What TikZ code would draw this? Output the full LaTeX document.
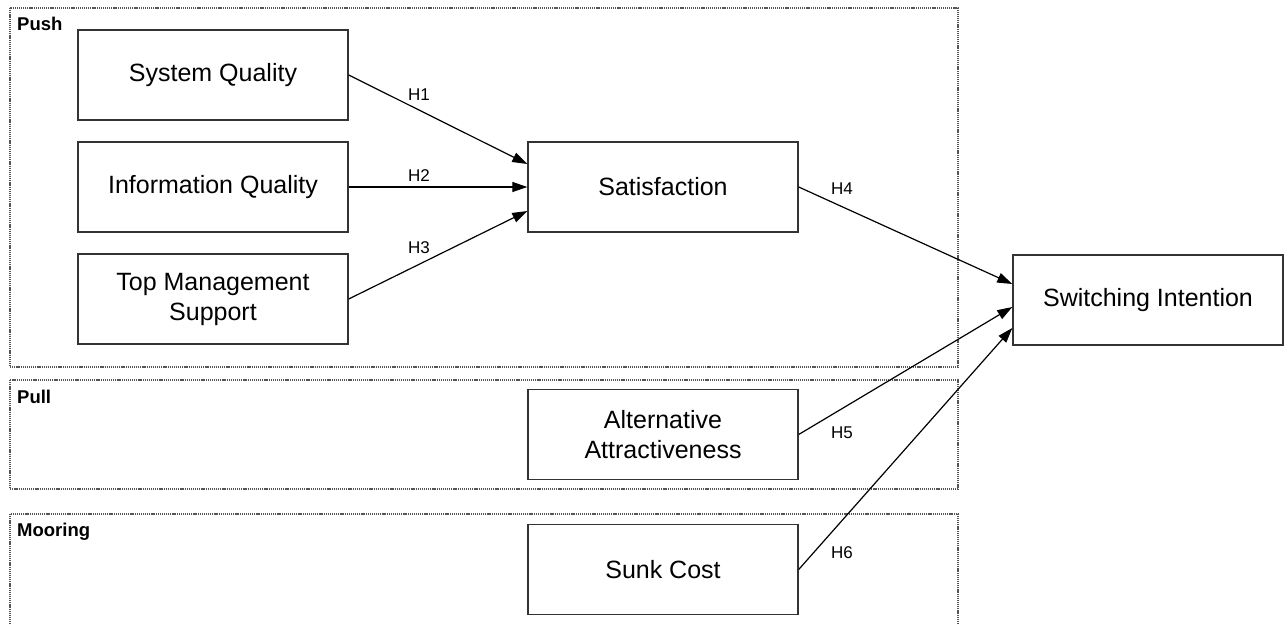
\documentclass[tikz,border=0pt]{standalone}
\usepackage{fontspec}
\setmainfont{Liberation Sans}
\usetikzlibrary{arrows.meta}
\definecolor{boxline}{HTML}{333333}
\definecolor{grpline}{HTML}{555555}
\tikzset{
  construct/.style={draw=boxline, line width=1.4pt, rectangle, minimum width=270pt, minimum height=90pt, align=center, inner sep=0pt, font=\fontsize{25}{30}\selectfont},
  grp/.style={draw=grpline, line width=1.1pt, dash pattern=on 1.2pt off 0.9pt},
  grplabel/.style={anchor=west, inner sep=0pt, font=\fontsize{18.5}{20}\selectfont\bfseries},
  hyp/.style={inner sep=0pt, font=\fontsize{17}{20}\selectfont},
  link/.style={draw=black, line width=1.2pt, -{Triangle[length=15pt,width=10pt]}}
}
\begin{document}
\begin{tikzpicture}[x=1pt,y=-1pt]
\useasboundingbox (0,0) rectangle (1288,624);
\clip (0,0) rectangle (1288,624);
% groups
\draw[grp] (10,8) rectangle (958,367);
\draw[grp] (10,380) rectangle (958,489);
\draw[grp] (10,514) rectangle (958,640);
\node[grplabel] (lpush) at (17,24) {Push};
\node[grplabel] (lpull) at (17,397) {Pull};
\node[grplabel] (lmoor) at (17,532) {Mooring};
% constructs
\node[construct] (sq) at (213,75) {System Quality};
\node[construct] (iq) at (213,187) {Information Quality};
\node[construct] (tms) at (213,299) {Top Management\\Support};
\node[construct] (sat) at (663,187) {Satisfaction};
\node[construct] (si) at (1148,300) {Switching Intention};
\node[construct] (alt) at (663,434.5) {Alternative\\Attractiveness};
\node[construct] (sunk) at (663,569.5) {Sunk Cost};
% links
\draw[link] (sq.east) -- ([yshift=23pt]sat.west);
\draw[link] (iq.east) -- (sat.west);
\draw[link] (tms.east) -- ([yshift=-24pt]sat.west);
\draw[link] (sat.east) -- ([yshift=16pt]si.west);
\draw[link] (alt.east) -- ([yshift=-7pt]si.west);
\draw[link] (sunk.east) -- ([yshift=-28pt]si.west);
% labels
\node[hyp] (h1) at (419,95) {H1};
\node[hyp] (h2) at (419,176) {H2};
\node[hyp] (h3) at (419,248) {H3};
\node[hyp] (h4) at (842,189) {H4};
\node[hyp] (h5) at (842,433) {H5};
\node[hyp] (h6) at (842,553) {H6};
\end{tikzpicture}
\end{document}
